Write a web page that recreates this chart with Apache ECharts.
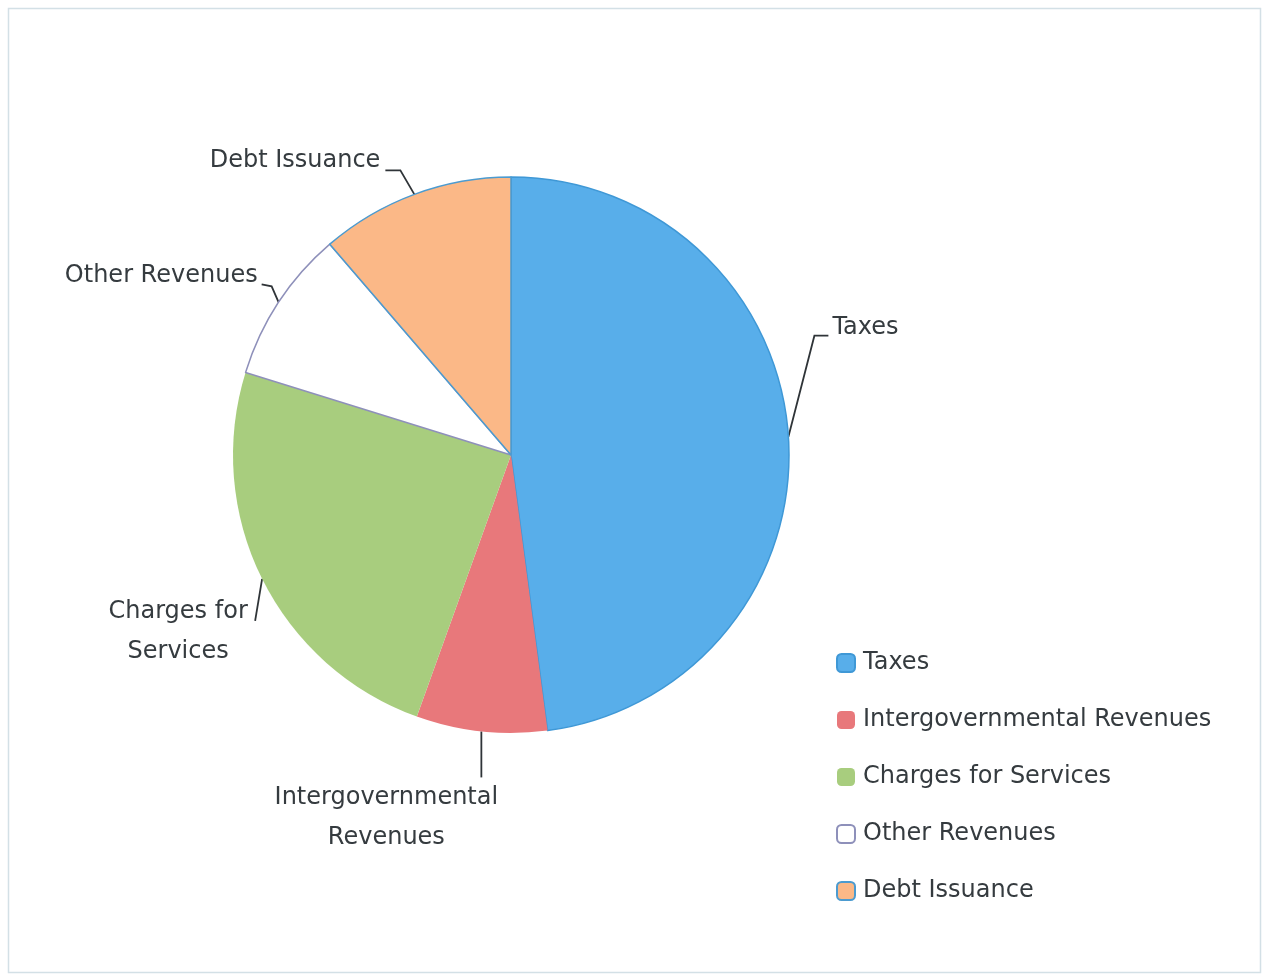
<!DOCTYPE html>
<html>
<head>
<meta charset="utf-8">
<script src="https://cdn.jsdelivr.net/npm/echarts@6/dist/echarts.min.js"></script>
<style>
html,body{margin:0;padding:0;background:#fff;}
#chart{width:1263px;height:976px;}
</style>
</head>
<body>
<div id="chart"></div>
<script>
// ---- data ----
const categories = ['Taxes', 'Intergovernmental Revenues', 'Charges for Services', 'Other Revenues', 'Debt Issuance'];
const values = [47.9, 7.6, 24.3, 8.9, 11.3];
const labelTexts = ['Taxes', 'Intergovernmental\nRevenues', 'Charges for\nServices', 'Other Revenues', 'Debt Issuance'];
const colors = ['#58aeea', '#e8787b', '#a8cd7e', '#ffffff', '#fbb887'];
const borderColors = ['#3f98d6', '#e8787b', '#a8cd7e', '#8e90ba', '#4c9bd0'];
const borderWidths = [1.5, 0, 0, 1.5, 1.5];

// label placement offsets relative to the slice edge point (style only)
const labelOffsets = [
  {bend:[26,-101], end:[40,-101], pos:[44,-109], align:'left'},
  {bend:null, end:[0,46], pos:[-95,86], align:'center'},
  {bend:null, end:[-7,42], pos:[-84,53], align:'center'},
  {bend:[-7,-16], end:[-17,-18], pos:[-21,-27], align:'right'},
  {bend:[-14,-24], end:[-29,-24], pos:[-34,-34], align:'right'}
];

const chart = echarts.init(document.getElementById('chart'));
const textColor = '#353b3f';
const font = 'DejaVu Sans';

const data = categories.map((c, i) => ({
  name: c,
  value: values[i],
  itemStyle: { color: colors[i], borderColor: borderColors[i], borderWidth: borderWidths[i] }
}));

chart.setOption({
  animation: false,
  backgroundColor: '#ffffff',
  graphic: [{
    type: 'rect',
    shape: { x: 8.5, y: 8.5, width: 1252, height: 964 },
    style: { fill: 'none', stroke: '#d3e0e6', lineWidth: 1.5 },
    silent: true, z: -10
  }],
  legend: {
    orient: 'vertical',
    left: 836,
    top: 649,
    padding: 0,
    itemWidth: 18,
    itemHeight: 18,
    itemGap: 29,
    icon: 'roundRect',
    textStyle: { fontFamily: font, fontSize: 24, color: textColor, lineHeight: 28, padding: [0, 0, 0, 3] },
    data: categories
  },
  series: [{
    type: 'pie',
    center: [511, 455],
    radius: 278,
    startAngle: 90,
    clockwise: true,
    avoidLabelOverlap: false,
    data: data,
    label: {
      show: true,
      position: 'outside',
      fontFamily: font,
      fontSize: 24,
      lineHeight: 40,
      color: textColor,
      formatter: p => labelTexts[p.dataIndex]
    },
    labelLine: {
      show: true,
      length: 20,
      length2: 10,
      lineStyle: { color: '#2f3438', width: 1.8 }
    },
    emphasis: { disabled: true },
    labelLayout: function (params) {
      const o = labelOffsets[params.dataIndex];
      const p0 = params.labelLinePoints ? params.labelLinePoints[0] : [params.labelRect.x, params.labelRect.y];
      const ex = p0[0], ey = p0[1];
      const pts = [[ex, ey]];
      if (o.bend) pts.push([ex + o.bend[0], ey + o.bend[1]]);
      else pts.push([ex + (o.end[0]) / 2, ey + (o.end[1]) / 2]);
      pts.push([ex + o.end[0], ey + o.end[1]]);
      return {
        x: ex + o.pos[0],
        y: ey + o.pos[1],
        align: o.align,
        verticalAlign: 'middle',
        labelLinePoints: pts
      };
    }
  }]
});
</script>
</body>
</html>
